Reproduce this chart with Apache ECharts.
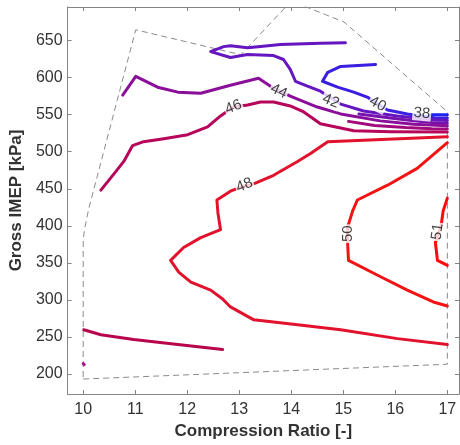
<!DOCTYPE html>
<html><head><meta charset="utf-8">
<script src="https://cdn.jsdelivr.net/npm/echarts@6/dist/echarts.min.js"></script>
<style>html,body{margin:0;padding:0;background:#fff}#c{width:460px;height:445px}</style>
</head><body><div id="c"></div>
<script>
// tick values
const xTicks = [10, 11, 12, 13, 14, 15, 16, 17];
const yTicks = [200, 250, 300, 350, 400, 450, 500, 550, 600, 650];

// measured operating boundary (dashed)
const boundary = [[10, 193], [17, 213], [17, 554], [15.01, 675.4], [14.0, 703.5], [13.03, 631],
  [11.01, 664.7], [10.11, 424], [10.05, 404], [10.02, 392], [10, 381], [10, 193]];

// contour lines (Compression ratio, Gross IMEP) for each efficiency level
const c38 = [[16.67, 550.1], [17.0, 550.1]];
const c40 = [[15.62, 617.9], [14.95, 615.2], [14.70, 607.2], [14.60, 595.2], [14.89, 587.2], [15.20, 580.5],
  [15.46, 573.8], [15.66, 564.4], [15.85, 556.4], [16.23, 551.1], [16.52, 548.4], [16.77, 545.7], [17.0, 545.7]];
const c42 = [[15.04, 647.3], [14.56, 646.7], [13.79, 644.7], [13.41, 642.0], [13.16, 640.6], [12.83, 643.3],
  [12.70, 642.0], [12.45, 635.3], [12.83, 627.3], [13.16, 631.3], [13.66, 629.9], [13.85, 624.6], [13.98, 611.2],
  [14.08, 595.2], [14.31, 588.5], [14.56, 581.8], [14.95, 564.4], [15.39, 555.1], [16.04, 548.4], [16.67, 543.5], [17.0, 542.1]];
const c43 = [[15.3, 551], [15.9, 545.5], [16.35, 541.8], [16.7, 539.4], [17.0, 538.6]];
const c44 = [[10.76, 576.5], [11.01, 601.9], [11.43, 587.2], [11.82, 580.5], [12.26, 579.1], [12.83, 589.8],
  [13.37, 599.2], [13.66, 585.8], [13.79, 581.8], [13.98, 575.1], [14.50, 560.4], [14.95, 551.1], [15.71, 541.7],
  [16.35, 537.0], [17.0, 535.0]];
const c45 = [[15.1, 541], [15.6, 535.5], [16.2, 532.6], [16.7, 531.0], [17.0, 530.6]];
const c46 = [[10.34, 448.1], [10.63, 473.5], [10.78, 486.9], [10.95, 508.3], [11.16, 513.6], [11.55, 517.6],
  [12.01, 523.0], [12.39, 533.7], [12.64, 548.4], [12.89, 560.4], [13.16, 563.1], [13.41, 567.1], [13.66, 567.1],
  [13.98, 561.8], [14.24, 553.7], [14.56, 537.7], [15.20, 528.3], [15.91, 527.0], [17.0, 526.6]];
const c47 = [[10.01, 259.6], [10.34, 252.9], [10.97, 246.3], [11.82, 239.6], [12.68, 232.9]];
const c47dot = [[10.0, 214], [10.02, 212.5]];
const c48 = [[17.0, 520.3], [14.70, 513.6], [14.37, 497.6], [14.12, 486.9], [13.66, 468.2], [13.22, 454.8],
  [13.08, 453.5], [12.83, 446.8], [12.57, 434.8], [12.59, 417.4], [12.64, 394.7], [12.26, 384.0], [11.93, 370.6],
  [11.68, 353.2], [11.84, 337.2], [12.07, 323.8], [12.45, 313.1], [12.68, 301.1], [12.83, 290.4], [13.28, 273.0],
  [14.12, 266.3], [14.95, 259.6], [16.04, 247.6], [17.0, 239.6]];
const c50 = [[17.0, 512.3], [16.42, 477.5], [15.85, 454.8], [15.27, 434.8], [15.18, 420.1], [15.08, 397.3],
  [15.08, 389.3], [15.08, 380.0], [15.10, 353.2], [15.66, 333.2], [16.23, 313.1], [16.73, 297.1], [17.0, 291.7]];
const c51 = [[17.0, 437.4], [16.92, 420.1], [16.88, 400], [16.83, 389.3], [16.77, 377.3], [16.81, 353.2], [17.0, 346.5]];

// contour label text, position and angle
const labelText = ['38', '40', '42', '44', '46', '48', '50', '51'];
const labelPos = [[16.51, 551.7], [15.66, 564.4], [14.76, 568.4], [13.76, 581.8], [12.89, 560.4], [13.10, 454.8], [15.08, 389.3], [16.81, 392]];
const labelAngle = [-5, -28, -22, -25, 22, 22, 90, 82];

const lines = [
  [c38, '#1e22f0'], [c40, '#3a1fe0'], [c42, '#6516c0'], [c43, '#7812ad'], [c44, '#8a0e9a'],
  [c45, '#a00a7c'], [c46, '#b6055a'], [c47, '#b8054c'], [c47dot, '#b0108a'], [c48, '#e3122c'],
  [c50, '#f21414'], [c51, '#ff0a0a']
];

const chart = echarts.init(document.getElementById('c'), null, {renderer: 'canvas'});
const FONT = 'Liberation Sans, Arial, Helvetica, sans-serif';
const axisCol = '#858585';
const xr = {min: 9.70, max: 17.224};
const yr = {min: 172.8, max: 695.5};

const series = [];
series.push({type: 'line', data: boundary, showSymbol: false, silent: true, z: 1,
  lineStyle: {color: '#8a8a8a', width: 1, type: [6, 4]}});
lines.forEach(([d, col]) => series.push({type: 'line', data: d, showSymbol: false, silent: true, z: 2,
  lineStyle: {color: col, width: 3, cap: 'round', join: 'round'}}));
series.push({type: 'scatter', symbolSize: 0, z: 5, silent: true,
  data: labelText.map((t, i) => ({value: labelPos[i], label: {show: true, formatter: t, rotate: labelAngle[i],
    position: 'inside', fontSize: 15, fontFamily: FONT, color: '#111', backgroundColor: '#ffffff', padding: [0, 1]}}))});

chart.setOption({
  animation: false,
  backgroundColor: '#ffffff',
  grid: {left: 67, right: 1, top: 7, bottom: 47, containLabel: false},
  xAxis: [
    {type: 'value', ...xr, position: 'bottom', name: 'Compression Ratio [-]', nameLocation: 'middle', nameGap: 29,
      nameTextStyle: {fontSize: 17, fontWeight: 'bold', color: '#333', fontFamily: FONT},
      axisLine: {show: true, lineStyle: {color: axisCol, width: 1}},
      axisTick: {show: true, inside: true, length: 4, customValues: xTicks, lineStyle: {color: axisCol}},
      axisLabel: {customValues: xTicks, fontSize: 16, color: '#333', fontFamily: FONT, margin: 8},
      splitLine: {show: false}},
    {type: 'value', ...xr, position: 'top',
      axisLine: {show: true, lineStyle: {color: axisCol, width: 1}},
      axisTick: {show: true, inside: true, length: 4, customValues: xTicks, lineStyle: {color: axisCol}},
      axisLabel: {show: false}, splitLine: {show: false}}
  ],
  yAxis: [
    {type: 'value', ...yr, position: 'left', name: 'Gross IMEP [kPa]', nameLocation: 'middle', nameGap: 37,
      nameTextStyle: {fontSize: 17, fontWeight: 'bold', color: '#333', fontFamily: FONT},
      axisLine: {show: true, lineStyle: {color: axisCol, width: 1}},
      axisTick: {show: true, inside: true, length: 4, customValues: yTicks, lineStyle: {color: axisCol}},
      axisLabel: {customValues: yTicks, fontSize: 16, color: '#333', fontFamily: FONT, margin: 5},
      splitLine: {show: false}},
    {type: 'value', ...yr, position: 'right',
      axisLine: {show: true, lineStyle: {color: axisCol, width: 1}},
      axisTick: {show: true, inside: true, length: 4, customValues: yTicks, lineStyle: {color: axisCol}},
      axisLabel: {show: false}, splitLine: {show: false}}
  ],
  series: series
});
</script></body></html>
